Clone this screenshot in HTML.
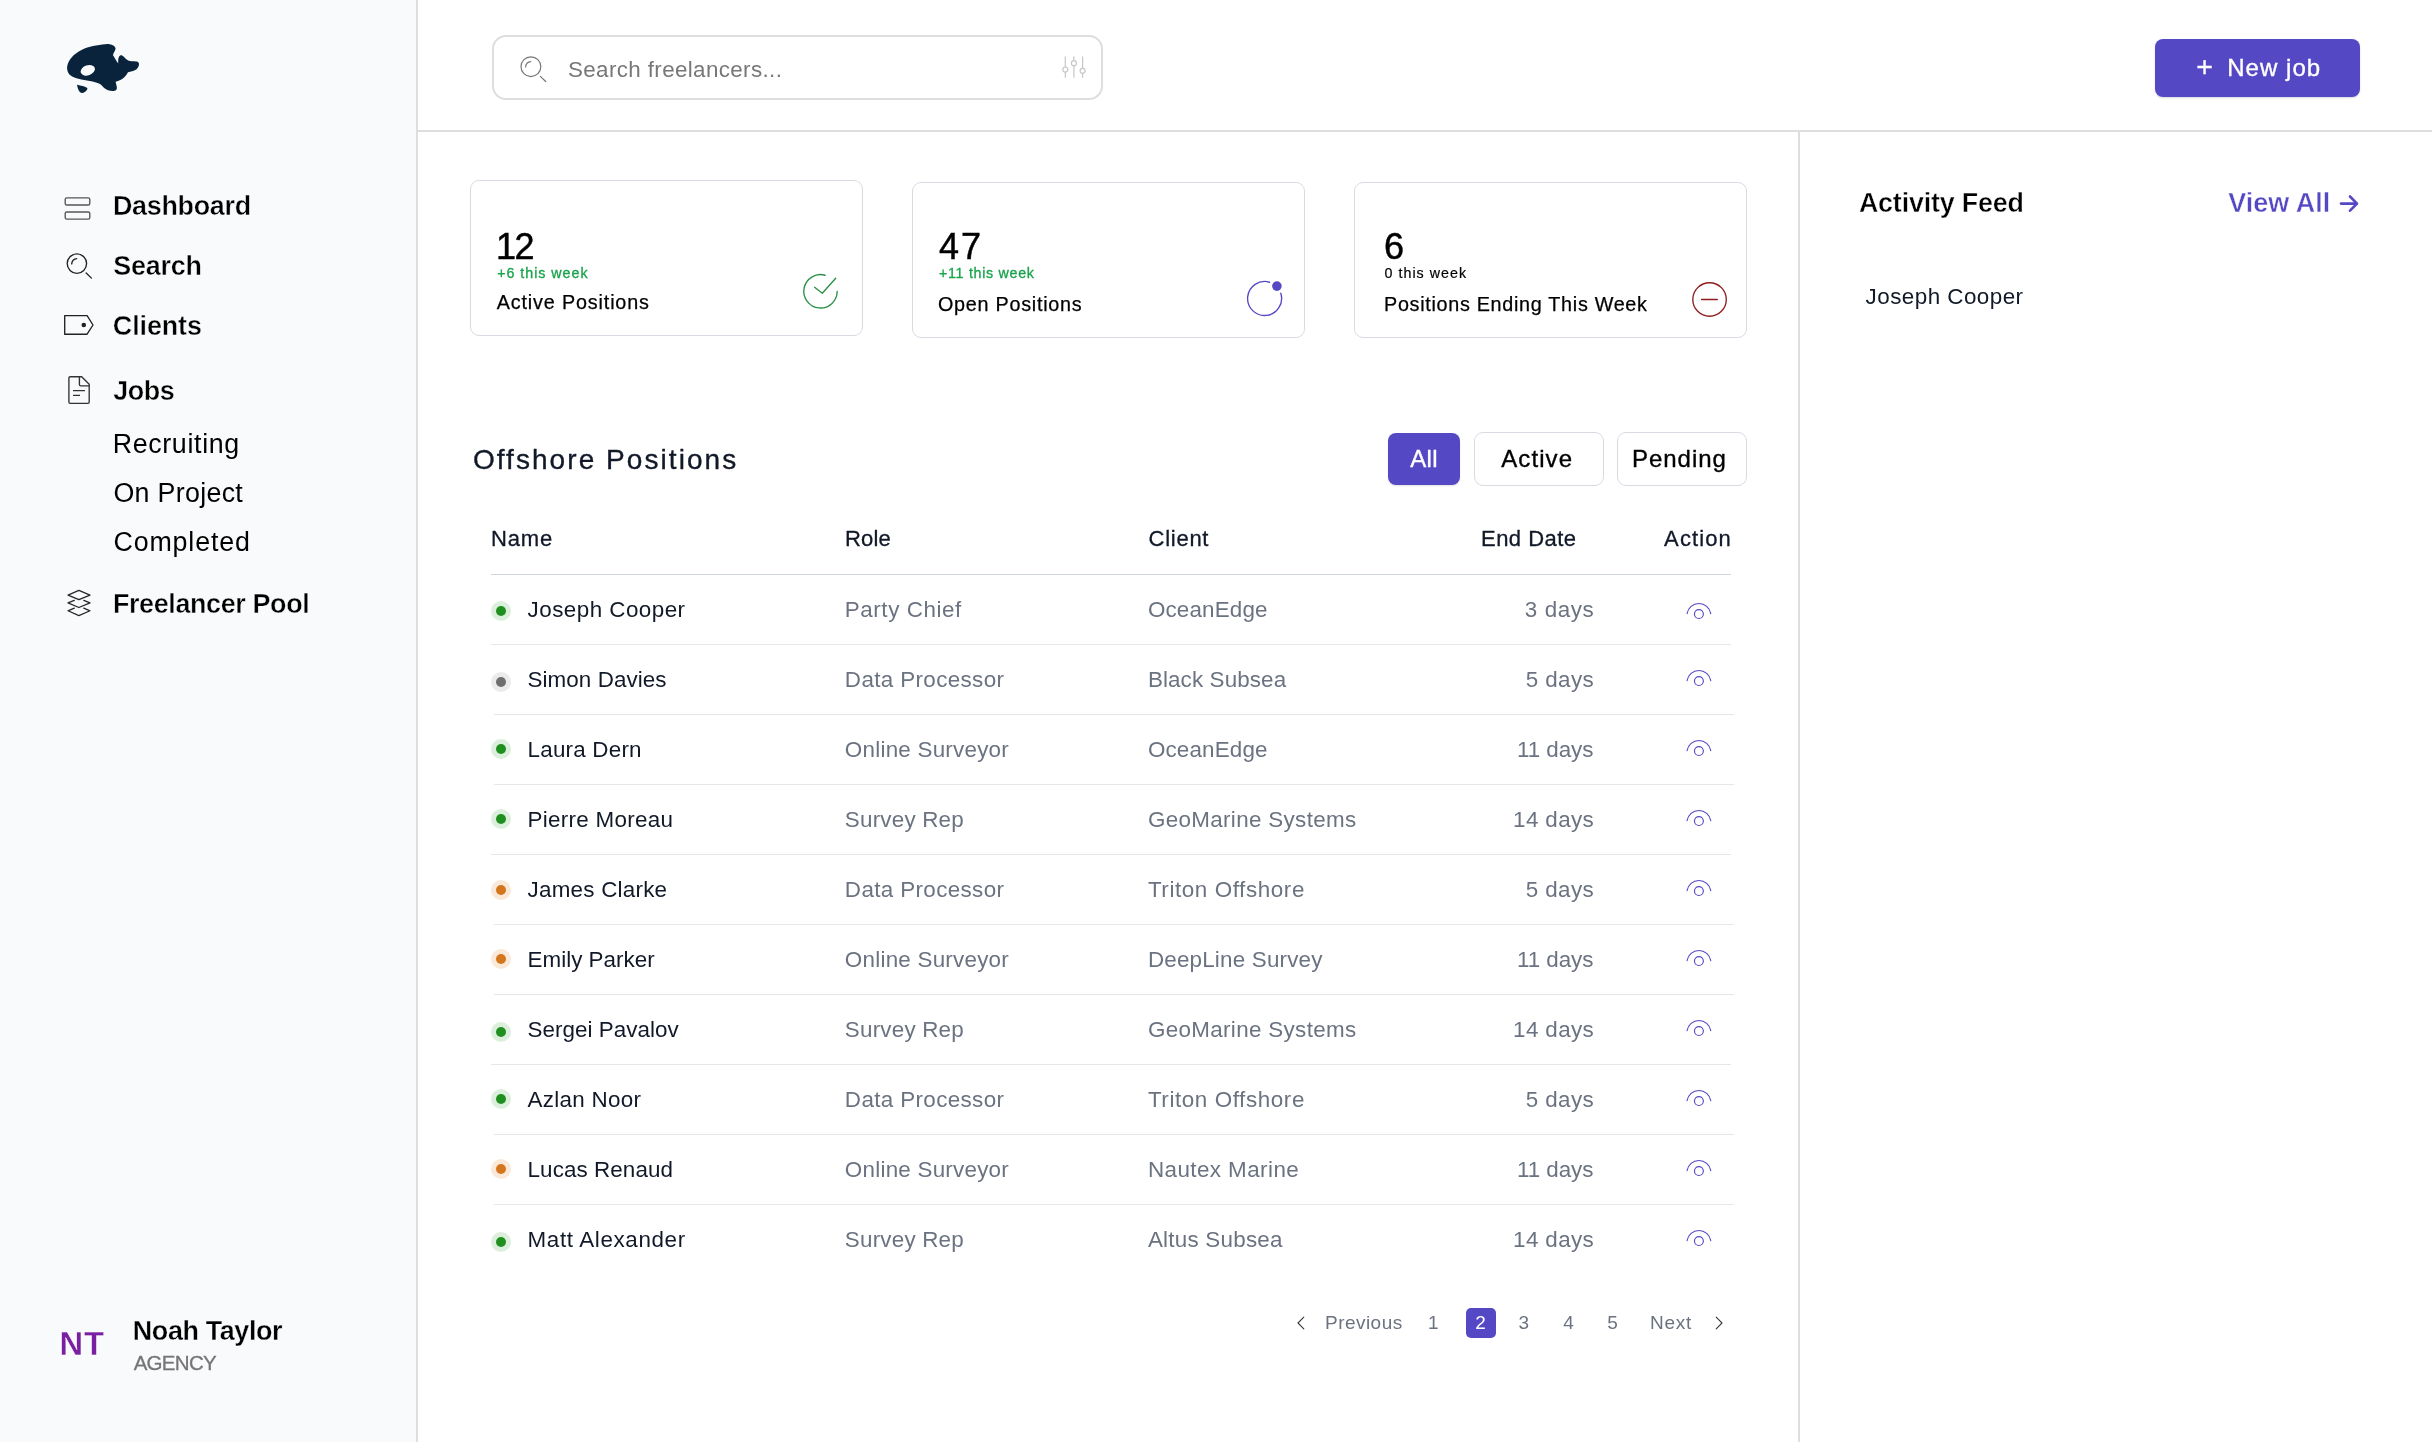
<!DOCTYPE html>
<html lang="en">
<head>
<meta charset="utf-8">
<title>Offshore Positions – Dashboard</title>
<style>
html,body{margin:0;padding:0;background:#fff;}
body{width:2432px;height:1442px;position:relative;overflow:hidden;font-family:'Liberation Sans', sans-serif;}
#app{position:absolute;left:0;top:0;width:2432px;height:1442px;will-change:transform;}
#app *{margin:0;padding:0;}
#app h2,#app h3{font:inherit;}
#app ul{list-style:none;}
#app a{color:inherit;text-decoration:none;}
.b{position:absolute;}
.t{position:absolute;white-space:pre;line-height:1;font-family:'Liberation Sans', sans-serif;}
.ic{position:absolute;overflow:visible;pointer-events:none;}
</style>
</head>
<body>
<div id="app">
<aside class="sidebar">
<div class="b" style="left:0px;top:0px;width:416px;height:1442px;background:#f9fafb;"></div>
<div class="b" style="left:416px;top:0px;width:2px;height:1442px;background:#dedede;"></div>
<a class="logo"><svg class="ic" aria-label="Logo" style="left:60px;top:36px;width:86px;height:64px" viewBox="60 36 86 64"><g fill="#08233b"><path d="M67.2 69.5C66.3 58 80 47.5 96 45.5C102 44.7 106 43.6 109.5 44.2C112.5 44.7 115.8 46.5 115.6 48.6C115.3 51 113.2 53.2 113 55.3C115 58.5 116.5 61.5 118.3 63.6C118 60.5 118.2 56.5 120.2 55.4C122.5 54.3 124 57.5 127.4 60C131 62.3 135.5 60.5 138 62C140 63.5 138.8 67.5 136.5 69.3C133.8 71.6 130.5 71.5 128 72.2C125 78 120.5 80.5 115.6 81.8C116.2 84.5 117.8 88.5 116.2 90C114.5 91.5 111 91.2 108 90.3C104.5 89.2 102.5 85.8 100 84C94 81 86 81 78.5 78.8C73 77.2 68 75.5 67.2 69.5Z"/><path d="M77 84.7C80.5 85.6 85.5 86.3 87.3 88C88 89.8 84.8 92.5 82.5 92.9C80.5 93 79 91.5 78.3 89.5C77.7 88 77.3 86.3 77 84.7Z"/></g><ellipse cx="87.8" cy="70.3" rx="7.4" ry="5" transform="rotate(-20 87.8 70.3)" fill="#f9fafb"/></svg></a>
<nav class="nav">
<a class="nav-item active"><svg class="ic" aria-hidden="true" style="left:60px;top:192px;width:36px;height:32px" viewBox="60 192 36 32"><g fill="none" stroke="#555" stroke-width="1.35"><rect x="65.2" y="197.9" width="24.6" height="7.1" rx="1.6"/><rect x="65.2" y="212" width="24.6" height="7.1" rx="1.6"/></g></svg><span class="t" style="left:112.94px;top:193.03px;font-size:26.90px;color:#000;font-weight:700;letter-spacing:-0.291px;-webkit-text-stroke:0.4px #f9fafb;">Dashboard</span></a>
<a class="nav-item"><svg class="ic" aria-hidden="true" style="left:60px;top:248px;width:36px;height:36px" viewBox="60 248 36 36"><g fill="none" stroke="#222" stroke-width="1.35" stroke-linecap="round"><circle cx="76.9" cy="263.6" r="9.7"/><path d="M71.73 263.90A5.17 5.17 0 0 1 76.70 258.63"/><path d="M86.15 273.05L91.43 278.13"/></g></svg><span class="t" style="left:113.22px;top:253.03px;font-size:26.90px;color:#000;font-weight:700;letter-spacing:-0.215px;-webkit-text-stroke:0.4px #f9fafb;">Search</span></a>
<a class="nav-item"><svg class="ic" aria-hidden="true" style="left:60px;top:310px;width:38px;height:30px" viewBox="60 310 38 30"><g fill="none" stroke="#222" stroke-width="1.35" stroke-linejoin="round"><path d="M64.7 315.6H87.1L93 325L87.1 334.2H64.7Z"/></g><circle cx="83.8" cy="325" r="2.3" fill="#222"/></svg><span class="t" style="left:112.86px;top:312.93px;font-size:26.90px;color:#000;font-weight:700;letter-spacing:-0.100px;-webkit-text-stroke:0.4px #f9fafb;">Clients</span></a>
<a class="nav-item"><svg class="ic" aria-hidden="true" style="left:62px;top:372px;width:32px;height:36px" viewBox="62 372 32 36"><g fill="none" stroke="#333" stroke-width="1.35" stroke-linejoin="round" stroke-linecap="round"><path d="M81.7 376.7H70.2Q68.9 376.7 68.9 378V402Q68.9 403.3 70.2 403.3H87.9Q89.2 403.3 89.2 402V384.3Z"/><path d="M79.4 376.7V384.5Q79.4 385.8 80.7 385.8H89.2"/><path stroke-linecap="butt" d="M73 390.6H84.9M73 395.3H80"/></g></svg><span class="t" style="left:113.32px;top:377.53px;font-size:26.90px;color:#000;font-weight:700;letter-spacing:-0.456px;-webkit-text-stroke:0.4px #f9fafb;">Jobs</span></a>
<div class="nav-sub"><a class="nav-subitem"><span class="t" style="left:112.64px;top:431.21px;font-size:26.80px;color:#000;letter-spacing:0.665px;">Recruiting</span></a><a class="nav-subitem"><span class="t" style="left:113.39px;top:480.11px;font-size:26.80px;color:#000;letter-spacing:0.317px;">On Project</span></a><a class="nav-subitem"><span class="t" style="left:113.44px;top:529.01px;font-size:26.80px;color:#000;letter-spacing:0.855px;">Completed</span></a></div>
<a class="nav-item"><svg class="ic" aria-hidden="true" style="left:62px;top:586px;width:34px;height:34px" viewBox="62 586 34 34"><g fill="none" stroke="#262626" stroke-width="1.25" stroke-linejoin="round" stroke-linecap="round"><path d="M68 595.1L78.9 590.4L90 595.1L78.9 599.7Z"/><path d="M74.3 600.3L68 602.9L78.9 607.5L90 602.9L83.8 600.3"/><path d="M74.3 608.2L68 610.8L78.9 615.6L90 610.8L83.8 608.2"/></g></svg><span class="t" style="left:112.94px;top:590.83px;font-size:26.90px;color:#000;font-weight:700;letter-spacing:-0.357px;-webkit-text-stroke:0.4px #f9fafb;">Freelancer Pool</span></a>
</nav>
<div class="profile"><div class="avatar"><span class="t" style="left:59.46px;top:1328.13px;font-size:32.80px;color:#7a1fa2;font-weight:700;letter-spacing:0.792px;-webkit-text-stroke:0.4px #f9fafb;">NT</span></div><div class="who"><span class="t" style="left:132.82px;top:1318.23px;font-size:26.90px;color:#000;font-weight:700;letter-spacing:-0.367px;-webkit-text-stroke:0.3px #f9fafb;">Noah Taylor</span><span class="t" style="left:133.64px;top:1352.65px;font-size:20.50px;color:#757575;letter-spacing:-0.708px;-webkit-text-stroke:0.3px #757575;">AGENCY</span></div></div>
</aside>
<header class="topbar">
<div class="b" style="left:418px;top:130px;width:2014px;height:2px;background:#dedede;"></div>
<div class="search" role="search">
<div class="b" style="left:492px;top:35px;width:611px;height:65px;box-sizing:border-box;border:2px solid #dedede;border-radius:14px;background:#fff;"></div>
<svg class="ic" aria-hidden="true" style="left:516px;top:52px;width:36px;height:36px" viewBox="516 52 36 36"><g fill="none" stroke="#777" stroke-width="1.2" stroke-linecap="round"><circle cx="530.9" cy="66.7" r="9.9"/><path d="M525.62 67.00A5.28 5.28 0 0 1 530.70 61.62"/><path d="M540.34 76.35L545.72 81.52"/></g></svg>
<span class="t" style="left:568.00px;top:58.84px;font-size:22.40px;color:#777;letter-spacing:0.365px;">Search freelancers...</span>
<svg class="ic" aria-label="Filters" style="left:1058px;top:52px;width:32px;height:30px" viewBox="1058 52 32 30"><g fill="#fff" stroke="#c6c6c6" stroke-width="1.2" stroke-linecap="round"><path d="M1065.3 56.8V77.2"/><circle cx="1065.3" cy="69.5" r="2.5"/><path d="M1073.9 56.8V77.2"/><circle cx="1073.9" cy="63.2" r="2.5"/><path d="M1082.6 56.8V77.2"/><circle cx="1082.6" cy="70.8" r="2.5"/></g></svg>
</div>
<div class="btn-primary" role="button"><div class="b" style="left:2155px;top:39px;width:205px;height:58px;background:#5548c5;border-radius:8px;box-shadow:0 1px 2px rgba(0,0,0,.15);"></div><span class="t" style="left:2196.33px;top:51.87px;font-size:28.50px;color:#fff;-webkit-text-stroke:0.3px #fff;">+</span><span class="t" style="left:2227.23px;top:56.48px;font-size:24.00px;color:#fff;letter-spacing:1.030px;-webkit-text-stroke:0.35px #fff;">New job</span></div>
</header>
<main class="content">
<section class="stats">
<article class="card"><div class="b" style="left:470px;top:180px;width:393px;height:156px;box-sizing:border-box;border:1px solid #d8dbe2;border-radius:9px;background:#fff;"></div><span class="t" style="left:496.00px;top:229.43px;font-size:36.00px;color:#000;letter-spacing:-1.513px;-webkit-text-stroke:0.5px #000;">12</span><span class="t" style="left:497.23px;top:265.64px;font-size:14.25px;color:#16a34a;letter-spacing:0.973px;-webkit-text-stroke:0.3px #16a34a;">+6 this week</span><span class="t" style="left:496.66px;top:293.18px;font-size:19.75px;color:#000;letter-spacing:0.858px;-webkit-text-stroke:0.25px #000;">Active Positions</span><svg class="ic" aria-hidden="true" style="left:800px;top:270px;width:42px;height:42px" viewBox="800 270 42 42"><g fill="none" stroke="#2a9048" stroke-width="1.35" stroke-linecap="round" stroke-linejoin="round"><path d="M837.20 291.30A16.7 16.7 0 1 1 825.10 275.25"/><path d="M814.6 287.3L822.3 293.3L835.7 278.2"/></g></svg></article>
<article class="card"><div class="b" style="left:912px;top:182px;width:393px;height:156px;box-sizing:border-box;border:1px solid #d8dbe2;border-radius:9px;background:#fff;"></div><span class="t" style="left:939.00px;top:229.43px;font-size:36.00px;color:#000;letter-spacing:2.007px;-webkit-text-stroke:0.5px #000;">47</span><span class="t" style="left:939.00px;top:265.64px;font-size:14.25px;color:#16a34a;letter-spacing:0.703px;-webkit-text-stroke:0.3px #16a34a;">+11 this week</span><span class="t" style="left:937.92px;top:295.18px;font-size:19.75px;color:#000;letter-spacing:0.760px;-webkit-text-stroke:0.25px #000;">Open Positions</span><svg class="ic" aria-hidden="true" style="left:1244px;top:278px;width:42px;height:42px" viewBox="1244 278 42 42"><g fill="none" stroke="#5548c5" stroke-width="1.35" stroke-linecap="round"><path d="M1280.77 293.25A17 17 0 1 1 1269.57 282.24"/></g><circle cx="1276.9" cy="286.1" r="4.8" fill="#5548c5"/></svg></article>
<article class="card"><div class="b" style="left:1354px;top:182px;width:393px;height:156px;box-sizing:border-box;border:1px solid #d8dbe2;border-radius:9px;background:#fff;"></div><span class="t" style="left:1383.98px;top:229.43px;font-size:36.00px;color:#000;-webkit-text-stroke:0.5px #000;">6</span><span class="t" style="left:1384.50px;top:265.64px;font-size:14.25px;color:#000;letter-spacing:1.034px;-webkit-text-stroke:0.2px #000;">0 this week</span><span class="t" style="left:1384.00px;top:295.18px;font-size:19.75px;color:#000;letter-spacing:0.710px;-webkit-text-stroke:0.25px #000;">Positions Ending This Week</span><svg class="ic" aria-hidden="true" style="left:1689px;top:279px;width:42px;height:42px" viewBox="1689 279 42 42"><g fill="none" stroke="#8e1d1d" stroke-width="1.35" stroke-linecap="round"><circle cx="1709.55" cy="299.45" r="16.75"/><path d="M1701.6 299.5H1717.3"/></g></svg></article>
</section>
<section class="positions">
<div class="section-head"><h2><span class="t" style="left:472.91px;top:445.80px;font-size:28.00px;color:#111827;letter-spacing:2.062px;-webkit-text-stroke:0.35px #111827;">Offshore Positions</span></h2><div class="filters">
<div class="chip on" role="button"><div class="b" style="left:1388px;top:433px;width:72px;height:52px;background:#5548c5;border-radius:8px;box-shadow:0 1px 2px rgba(0,0,0,.12);"></div><span class="t" style="left:1410.16px;top:447.18px;font-size:24.00px;color:#fff;letter-spacing:0.398px;-webkit-text-stroke:0.35px #fff;">All</span></div>
<div class="chip" role="button"><div class="b" style="left:1474px;top:432px;width:130px;height:54px;box-sizing:border-box;border:1px solid #d8dbe2;border-radius:9px;background:#fff;"></div><span class="t" style="left:1501.20px;top:447.18px;font-size:24.00px;color:#000;letter-spacing:1.107px;-webkit-text-stroke:0.35px #000;">Active</span></div>
<div class="chip" role="button"><div class="b" style="left:1617px;top:432px;width:130px;height:54px;box-sizing:border-box;border:1px solid #d8dbe2;border-radius:9px;background:#fff;"></div><span class="t" style="left:1632.00px;top:447.18px;font-size:24.00px;color:#000;letter-spacing:0.965px;-webkit-text-stroke:0.35px #000;">Pending</span></div>
</div></div>
<div class="table" role="table">
<div class="thead" role="row"><div role="columnheader"><span class="t" style="left:491.04px;top:528.28px;font-size:22.00px;color:#111827;letter-spacing:0.855px;-webkit-text-stroke:0.3px #111827;">Name</span></div><div role="columnheader"><span class="t" style="left:845.02px;top:528.28px;font-size:22.00px;color:#111827;letter-spacing:0.145px;-webkit-text-stroke:0.3px #111827;">Role</span></div><div role="columnheader"><span class="t" style="left:1148.50px;top:528.28px;font-size:22.00px;color:#111827;letter-spacing:0.745px;-webkit-text-stroke:0.3px #111827;">Client</span></div><div role="columnheader"><span class="t" style="left:1481.02px;top:528.28px;font-size:22.00px;color:#111827;letter-spacing:0.468px;-webkit-text-stroke:0.3px #111827;">End Date</span></div><div role="columnheader"><span class="t" style="left:1664.12px;top:528.28px;font-size:22.00px;color:#111827;letter-spacing:1.092px;-webkit-text-stroke:0.3px #111827;">Action</span></div><div class="b" style="left:491px;top:574px;width:1240px;height:1px;background:#cfd4dc;"></div></div>
<div class="tr" role="row"><div role="cell"><div class="b halo" style="left:491px;top:601px;width:20px;height:20px;background:#dcefdc;border-radius:50%;"></div><div class="b dot" style="left:496px;top:606px;width:10px;height:10px;background:#1f8f1f;border-radius:50%;"></div><span class="t" style="left:527.58px;top:598.94px;font-size:22.40px;color:#111827;letter-spacing:0.467px;">Joseph Cooper</span></div><div role="cell"><span class="t" style="left:844.87px;top:598.94px;font-size:22.40px;color:#6b7280;letter-spacing:0.554px;">Party Chief</span></div><div role="cell"><span class="t" style="left:1147.89px;top:598.94px;font-size:22.40px;color:#6b7280;letter-spacing:0.174px;">OceanEdge</span></div><div role="cell"><span class="t" style="left:1524.86px;top:598.94px;font-size:22.40px;color:#6b7280;letter-spacing:0.594px;">3 days</span></div><div role="cell"><svg class="ic" aria-label="View" style="left:1682px;top:598px;width:34px;height:28px" viewBox="1682 598 34 28"><g fill="none" stroke="#5548c5" stroke-width="1.15" stroke-linecap="round"><path d="M1687.05 613.62A12 12 0 0 1 1710.75 613.62"/><circle cx="1698.9" cy="614" r="4.45"/></g></svg></div><div class="b" style="left:491px;top:644px;width:1240px;height:1px;background:#e5e7eb;"></div></div>
<div class="tr" role="row"><div role="cell"><div class="b halo" style="left:491px;top:672px;width:20px;height:20px;background:#ebebeb;border-radius:50%;"></div><div class="b dot" style="left:496px;top:677px;width:10px;height:10px;background:#6e6e6e;border-radius:50%;"></div><span class="t" style="left:527.58px;top:668.94px;font-size:22.40px;color:#111827;letter-spacing:0.065px;">Simon Davies</span></div><div role="cell"><span class="t" style="left:844.87px;top:668.94px;font-size:22.40px;color:#6b7280;letter-spacing:0.365px;">Data Processor</span></div><div role="cell"><span class="t" style="left:1147.89px;top:668.94px;font-size:22.40px;color:#6b7280;letter-spacing:0.124px;">Black Subsea</span></div><div role="cell"><span class="t" style="left:1525.67px;top:668.94px;font-size:22.40px;color:#6b7280;letter-spacing:0.429px;">5 days</span></div><div role="cell"><svg class="ic" aria-label="View" style="left:1682px;top:665px;width:34px;height:28px" viewBox="1682 665 34 28"><g fill="none" stroke="#5548c5" stroke-width="1.15" stroke-linecap="round"><path d="M1687.05 680.62A12 12 0 0 1 1710.75 680.62"/><circle cx="1698.9" cy="681" r="4.45"/></g></svg></div><div class="b" style="left:494px;top:714px;width:1240px;height:1px;background:#e5e7eb;"></div></div>
<div class="tr" role="row"><div role="cell"><div class="b halo" style="left:491px;top:738.8px;width:20px;height:20px;background:#dcefdc;border-radius:50%;"></div><div class="b dot" style="left:496px;top:743.8px;width:10px;height:10px;background:#1f8f1f;border-radius:50%;"></div><span class="t" style="left:527.58px;top:738.94px;font-size:22.40px;color:#111827;letter-spacing:0.212px;">Laura Dern</span></div><div role="cell"><span class="t" style="left:844.87px;top:738.94px;font-size:22.40px;color:#6b7280;letter-spacing:0.239px;">Online Surveyor</span></div><div role="cell"><span class="t" style="left:1147.89px;top:738.94px;font-size:22.40px;color:#6b7280;letter-spacing:0.174px;">OceanEdge</span></div><div role="cell"><span class="t" style="left:1517.05px;top:738.94px;font-size:22.40px;color:#6b7280;letter-spacing:-0.074px;">11 days</span></div><div role="cell"><svg class="ic" aria-label="View" style="left:1682px;top:735px;width:34px;height:28px" viewBox="1682 735 34 28"><g fill="none" stroke="#5548c5" stroke-width="1.15" stroke-linecap="round"><path d="M1687.05 750.62A12 12 0 0 1 1710.75 750.62"/><circle cx="1698.9" cy="751" r="4.45"/></g></svg></div><div class="b" style="left:494px;top:784px;width:1240px;height:1px;background:#e5e7eb;"></div></div>
<div class="tr" role="row"><div role="cell"><div class="b halo" style="left:491px;top:808.7px;width:20px;height:20px;background:#dcefdc;border-radius:50%;"></div><div class="b dot" style="left:496px;top:813.7px;width:10px;height:10px;background:#1f8f1f;border-radius:50%;"></div><span class="t" style="left:527.58px;top:808.94px;font-size:22.40px;color:#111827;letter-spacing:0.284px;">Pierre Moreau</span></div><div role="cell"><span class="t" style="left:844.87px;top:808.94px;font-size:22.40px;color:#6b7280;letter-spacing:0.205px;">Survey Rep</span></div><div role="cell"><span class="t" style="left:1147.89px;top:808.94px;font-size:22.40px;color:#6b7280;letter-spacing:0.342px;">GeoMarine Systems</span></div><div role="cell"><span class="t" style="left:1513.05px;top:808.94px;font-size:22.40px;color:#6b7280;letter-spacing:0.378px;">14 days</span></div><div role="cell"><svg class="ic" aria-label="View" style="left:1682px;top:805px;width:34px;height:28px" viewBox="1682 805 34 28"><g fill="none" stroke="#5548c5" stroke-width="1.15" stroke-linecap="round"><path d="M1687.05 820.62A12 12 0 0 1 1710.75 820.62"/><circle cx="1698.9" cy="821" r="4.45"/></g></svg></div><div class="b" style="left:491px;top:854px;width:1240px;height:1px;background:#e5e7eb;"></div></div>
<div class="tr" role="row"><div role="cell"><div class="b halo" style="left:491px;top:879.5px;width:20px;height:20px;background:#fae8d8;border-radius:50%;"></div><div class="b dot" style="left:496px;top:884.5px;width:10px;height:10px;background:#d4761e;border-radius:50%;"></div><span class="t" style="left:527.58px;top:878.94px;font-size:22.40px;color:#111827;letter-spacing:0.237px;">James Clarke</span></div><div role="cell"><span class="t" style="left:844.87px;top:878.94px;font-size:22.40px;color:#6b7280;letter-spacing:0.365px;">Data Processor</span></div><div role="cell"><span class="t" style="left:1147.89px;top:878.94px;font-size:22.40px;color:#6b7280;letter-spacing:0.599px;">Triton Offshore</span></div><div role="cell"><span class="t" style="left:1525.67px;top:878.94px;font-size:22.40px;color:#6b7280;letter-spacing:0.429px;">5 days</span></div><div role="cell"><svg class="ic" aria-label="View" style="left:1682px;top:875px;width:34px;height:28px" viewBox="1682 875 34 28"><g fill="none" stroke="#5548c5" stroke-width="1.15" stroke-linecap="round"><path d="M1687.05 890.62A12 12 0 0 1 1710.75 890.62"/><circle cx="1698.9" cy="891" r="4.45"/></g></svg></div><div class="b" style="left:494px;top:924px;width:1240px;height:1px;background:#e5e7eb;"></div></div>
<div class="tr" role="row"><div role="cell"><div class="b halo" style="left:491px;top:948.8px;width:20px;height:20px;background:#fae8d8;border-radius:50%;"></div><div class="b dot" style="left:496px;top:953.8px;width:10px;height:10px;background:#d4761e;border-radius:50%;"></div><span class="t" style="left:527.58px;top:948.94px;font-size:22.40px;color:#111827;letter-spacing:0.013px;">Emily Parker</span></div><div role="cell"><span class="t" style="left:844.87px;top:948.94px;font-size:22.40px;color:#6b7280;letter-spacing:0.239px;">Online Surveyor</span></div><div role="cell"><span class="t" style="left:1147.89px;top:948.94px;font-size:22.40px;color:#6b7280;letter-spacing:0.200px;">DeepLine Survey</span></div><div role="cell"><span class="t" style="left:1517.05px;top:948.94px;font-size:22.40px;color:#6b7280;letter-spacing:-0.074px;">11 days</span></div><div role="cell"><svg class="ic" aria-label="View" style="left:1682px;top:945px;width:34px;height:28px" viewBox="1682 945 34 28"><g fill="none" stroke="#5548c5" stroke-width="1.15" stroke-linecap="round"><path d="M1687.05 960.62A12 12 0 0 1 1710.75 960.62"/><circle cx="1698.9" cy="961" r="4.45"/></g></svg></div><div class="b" style="left:494px;top:994px;width:1240px;height:1px;background:#e5e7eb;"></div></div>
<div class="tr" role="row"><div role="cell"><div class="b halo" style="left:491px;top:1021.8px;width:20px;height:20px;background:#dcefdc;border-radius:50%;"></div><div class="b dot" style="left:496px;top:1026.8px;width:10px;height:10px;background:#1f8f1f;border-radius:50%;"></div><span class="t" style="left:527.58px;top:1018.94px;font-size:22.40px;color:#111827;letter-spacing:0.045px;">Sergei Pavalov</span></div><div role="cell"><span class="t" style="left:844.87px;top:1018.94px;font-size:22.40px;color:#6b7280;letter-spacing:0.205px;">Survey Rep</span></div><div role="cell"><span class="t" style="left:1147.89px;top:1018.94px;font-size:22.40px;color:#6b7280;letter-spacing:0.342px;">GeoMarine Systems</span></div><div role="cell"><span class="t" style="left:1513.05px;top:1018.94px;font-size:22.40px;color:#6b7280;letter-spacing:0.378px;">14 days</span></div><div role="cell"><svg class="ic" aria-label="View" style="left:1682px;top:1015px;width:34px;height:28px" viewBox="1682 1015 34 28"><g fill="none" stroke="#5548c5" stroke-width="1.15" stroke-linecap="round"><path d="M1687.05 1030.62A12 12 0 0 1 1710.75 1030.62"/><circle cx="1698.9" cy="1031" r="4.45"/></g></svg></div><div class="b" style="left:491px;top:1064px;width:1240px;height:1px;background:#e5e7eb;"></div></div>
<div class="tr" role="row"><div role="cell"><div class="b halo" style="left:491px;top:1088.7px;width:20px;height:20px;background:#dcefdc;border-radius:50%;"></div><div class="b dot" style="left:496px;top:1093.7px;width:10px;height:10px;background:#1f8f1f;border-radius:50%;"></div><span class="t" style="left:527.58px;top:1088.94px;font-size:22.40px;color:#111827;letter-spacing:0.284px;">Azlan Noor</span></div><div role="cell"><span class="t" style="left:844.87px;top:1088.94px;font-size:22.40px;color:#6b7280;letter-spacing:0.365px;">Data Processor</span></div><div role="cell"><span class="t" style="left:1147.89px;top:1088.94px;font-size:22.40px;color:#6b7280;letter-spacing:0.599px;">Triton Offshore</span></div><div role="cell"><span class="t" style="left:1525.67px;top:1088.94px;font-size:22.40px;color:#6b7280;letter-spacing:0.429px;">5 days</span></div><div role="cell"><svg class="ic" aria-label="View" style="left:1682px;top:1085px;width:34px;height:28px" viewBox="1682 1085 34 28"><g fill="none" stroke="#5548c5" stroke-width="1.15" stroke-linecap="round"><path d="M1687.05 1100.62A12 12 0 0 1 1710.75 1100.62"/><circle cx="1698.9" cy="1101" r="4.45"/></g></svg></div><div class="b" style="left:494px;top:1134px;width:1240px;height:1px;background:#e5e7eb;"></div></div>
<div class="tr" role="row"><div role="cell"><div class="b halo" style="left:491px;top:1158.7px;width:20px;height:20px;background:#fae8d8;border-radius:50%;"></div><div class="b dot" style="left:496px;top:1163.7px;width:10px;height:10px;background:#d4761e;border-radius:50%;"></div><span class="t" style="left:527.58px;top:1158.94px;font-size:22.40px;color:#111827;letter-spacing:0.085px;">Lucas Renaud</span></div><div role="cell"><span class="t" style="left:844.87px;top:1158.94px;font-size:22.40px;color:#6b7280;letter-spacing:0.239px;">Online Surveyor</span></div><div role="cell"><span class="t" style="left:1147.89px;top:1158.94px;font-size:22.40px;color:#6b7280;letter-spacing:0.440px;">Nautex Marine</span></div><div role="cell"><span class="t" style="left:1517.05px;top:1158.94px;font-size:22.40px;color:#6b7280;letter-spacing:-0.074px;">11 days</span></div><div role="cell"><svg class="ic" aria-label="View" style="left:1682px;top:1155px;width:34px;height:28px" viewBox="1682 1155 34 28"><g fill="none" stroke="#5548c5" stroke-width="1.15" stroke-linecap="round"><path d="M1687.05 1170.62A12 12 0 0 1 1710.75 1170.62"/><circle cx="1698.9" cy="1171" r="4.45"/></g></svg></div><div class="b" style="left:494px;top:1204px;width:1240px;height:1px;background:#e5e7eb;"></div></div>
<div class="tr" role="row"><div role="cell"><div class="b halo" style="left:491px;top:1231.7px;width:20px;height:20px;background:#dcefdc;border-radius:50%;"></div><div class="b dot" style="left:496px;top:1236.7px;width:10px;height:10px;background:#1f8f1f;border-radius:50%;"></div><span class="t" style="left:527.58px;top:1228.94px;font-size:22.40px;color:#111827;letter-spacing:0.631px;">Matt Alexander</span></div><div role="cell"><span class="t" style="left:844.87px;top:1228.94px;font-size:22.40px;color:#6b7280;letter-spacing:0.205px;">Survey Rep</span></div><div role="cell"><span class="t" style="left:1147.89px;top:1228.94px;font-size:22.40px;color:#6b7280;letter-spacing:0.241px;">Altus Subsea</span></div><div role="cell"><span class="t" style="left:1513.05px;top:1228.94px;font-size:22.40px;color:#6b7280;letter-spacing:0.378px;">14 days</span></div><div role="cell"><svg class="ic" aria-label="View" style="left:1682px;top:1225px;width:34px;height:28px" viewBox="1682 1225 34 28"><g fill="none" stroke="#5548c5" stroke-width="1.15" stroke-linecap="round"><path d="M1687.05 1240.62A12 12 0 0 1 1710.75 1240.62"/><circle cx="1698.9" cy="1241" r="4.45"/></g></svg></div></div>
</div>
<nav class="pagination">
<svg class="ic" aria-hidden="true" style="left:1292px;top:1312px;width:18px;height:22px" viewBox="1292 1312 18 22"><g fill="none" stroke="#3a3a3a" stroke-width="1.1" stroke-linecap="round" stroke-linejoin="round"><path d="M1303.8 1317.2L1298 1323L1303.8 1328.8"/></g></svg>
<span class="t" style="left:1325.12px;top:1312.82px;font-size:19.00px;color:#6b7280;letter-spacing:0.445px;">Previous</span><span class="t" style="left:1428.09px;top:1312.82px;font-size:19.00px;color:#6b7280;">1</span><span class="page on"><div class="b" style="left:1466px;top:1308px;width:30px;height:30px;background:#5548c5;border-radius:5px;"></div><span class="t" style="left:1475.14px;top:1312.82px;font-size:19.00px;color:#fff;">2</span></span><span class="t" style="left:1518.58px;top:1312.82px;font-size:19.00px;color:#6b7280;">3</span><span class="t" style="left:1563.31px;top:1312.82px;font-size:19.00px;color:#6b7280;">4</span><span class="t" style="left:1607.13px;top:1312.82px;font-size:19.00px;color:#6b7280;">5</span><span class="t" style="left:1650.05px;top:1312.82px;font-size:19.00px;color:#6b7280;letter-spacing:0.742px;">Next</span>
<svg class="ic" aria-hidden="true" style="left:1710px;top:1312px;width:18px;height:22px" viewBox="1710 1312 18 22"><g fill="none" stroke="#3a3a3a" stroke-width="1.1" stroke-linecap="round" stroke-linejoin="round"><path d="M1716.2 1317.2L1722 1323L1716.2 1328.8"/></g></svg>
</nav>
</section>
</main>
<aside class="activity">
<div class="b" style="left:1798px;top:132px;width:2px;height:1310px;background:#dedede;"></div>
<div class="activity-head"><h3><span class="t" style="left:1858.92px;top:190.01px;font-size:26.80px;color:#000;font-weight:700;letter-spacing:-0.144px;-webkit-text-stroke:0.4px #fff;">Activity Feed</span></h3><a class="link"><span class="t" style="left:2228.37px;top:190.03px;font-size:26.90px;color:#5548c5;font-weight:700;letter-spacing:0.022px;-webkit-text-stroke:0.4px #fff;">View All</span><svg class="ic" aria-hidden="true" style="left:2336px;top:192px;width:26px;height:24px" viewBox="2336 192 26 24"><g fill="none" stroke="#5548c5" stroke-width="2.6" stroke-linecap="round" stroke-linejoin="round"><path d="M2341 203.6H2356.5M2350 196.5L2357 203.6L2350 210.7"/></g></svg></a></div>
<ul class="feed"><li><span class="t" style="left:1865.58px;top:285.84px;font-size:22.40px;color:#111827;letter-spacing:0.467px;">Joseph Cooper</span></li></ul>
</aside>
</div>
</body>
</html>
